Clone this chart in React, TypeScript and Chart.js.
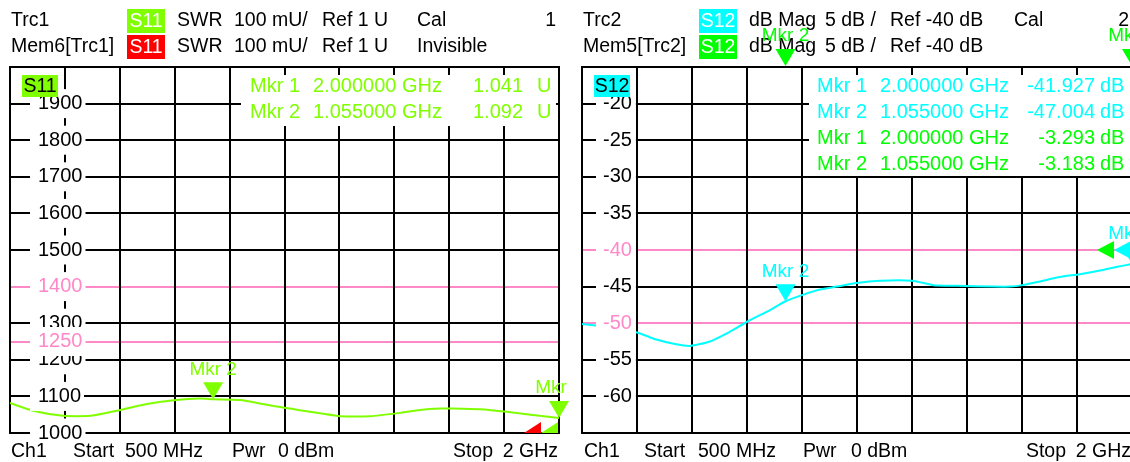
import React, { useEffect, useRef } from "react";
import { Chart, registerables } from "chart.js";
Chart.register(...registerables);

// ---------------- data ----------------
const freqS11 = [500, 563, 645, 719, 801, 874, 954, 1019, 1055, 1128, 1202, 1238, 1265, 1292, 1347, 1402, 1484, 1566, 1620, 1675, 1710, 1784, 1858, 1929, 2000];
const swrS11 = [1082, 1061, 1047, 1047, 1063, 1079, 1090, 1094, 1092, 1090, 1077, 1071, 1067, 1062, 1054, 1046, 1046, 1055, 1063, 1067, 1067, 1065, 1058, 1049, 1041];

const freqS12 = [500, 550, 600, 653, 700, 750, 795, 849, 895, 954, 1013, 1055, 1104, 1149, 1195, 1249, 1313, 1401, 1458, 1522, 1622, 1667, 1701, 1749, 1803, 1858, 1913, 1960, 2000];
const magS12 = [-50.1, -50.4, -50.8, -51.3, -52.2, -52.8, -53.1, -52.5, -51.4, -49.7, -48.2, -47.0, -46.1, -45.4, -45.0, -44.5, -44.2, -44.2, -44.8, -44.9, -45.0, -45.0, -44.8, -44.3, -43.7, -43.3, -42.8, -42.3, -41.9];

const gridFreqs = [500, 650, 800, 950, 1100, 1250, 1400, 1550, 1700, 1850, 2000];
const ticksS11 = [1000, 1100, 1200, 1300, 1400, 1500, 1600, 1700, 1800, 1900, 1250];
const limitS11 = [1400, 1250];
const ticksS12 = [-60, -55, -50, -45, -40, -35, -30, -25, -20];
const limitS12 = [-40, -50];

const markerNames = ["Mkr 1", "Mkr 2"];
const markerFreqs = [2000, 1055];
const markerS11 = [1.041, 1.092];
const markerS12 = [-41.927, -47.004];
const markerMemS12 = [-3.293, -3.183];
const refS11 = 1;
const refS12 = -40;

const headS11Row1 = ["Trc1", "S11", "SWR", "100 mU/", "Ref 1 U", "Cal", "1"];
const headS11Row2 = ["Mem6[Trc1]", "S11", "SWR", "100 mU/", "Ref 1 U", "Invisible"];
const headS12Row1 = ["Trc2", "S12", "dB Mag", "5 dB /", "Ref -40 dB", "Cal", "2"];
const headS12Row2 = ["Mem5[Trc2]", "S12", "dB Mag", "5 dB /", "Ref -40 dB"];
const footerTexts = ["Ch1", "Start", "500 MHz", "Pwr", "0 dBm", "Stop", "2 GHz"];

// ---------------- styles ----------------
const FONT = "'Liberation Sans', Arial, sans-serif";
const HEAD_SIZE = 19.5;
const LIME = "#80ff00";
const RED = "#ff0000";
const CYAN = "#00ffff";
const GREEN = "#00ff00";
const PINK = "#ff88c8";

type Ctx = CanvasRenderingContext2D;

function txt(ctx: Ctx, s: string, x: number, y: number, color: string, size = HEAD_SIZE, align: CanvasTextAlign = "left") {
  ctx.save();
  ctx.font = `${size}px ${FONT}`;
  ctx.fillStyle = color;
  ctx.textAlign = align;
  ctx.textBaseline = "middle";
  ctx.fillText(s, x, y);
  ctx.restore();
}

function tagBox(ctx: Ctx, s: string, x: number, y: number, w: number, h: number, bg: string, fg: string) {
  ctx.fillStyle = bg;
  ctx.fillRect(x, y, w, h);
  txt(ctx, s, x + w / 2, y + h / 2 + 0.5, fg, HEAD_SIZE, "center");
}

function markerDown(ctx: Ctx, x: number, tipY: number, color: string, label: string) {
  ctx.save();
  ctx.fillStyle = color;
  ctx.beginPath();
  ctx.moveTo(x - 10, tipY - 17);
  ctx.lineTo(x + 10, tipY - 17);
  ctx.lineTo(x, tipY);
  ctx.closePath();
  ctx.fill();
  ctx.restore();
  txt(ctx, label, x, tipY - 30, color, 19, "center");
}

function refArrow(ctx: Ctx, tipX: number, y: number, color: string, half: number) {
  ctx.fillStyle = color;
  ctx.beginPath();
  ctx.moveTo(tipX, y);
  ctx.lineTo(tipX + 17, y - half);
  ctx.lineTo(tipX + 17, y + half);
  ctx.closePath();
  ctx.fill();
}

interface Panel {
  padding: { left: number; top: number; right: number; bottom: number };
  freqs: number[];
  values: number[];
  traceColor: string;
  memColor: string;
  yMin: number;
  yMax: number;
  yTicks: number[];
  limits: number[];
  tickPad: number;
  backdropPad: { left: number; right: number; top: number; bottom: number };
  tag: string;
  row1: string[];
  row2: string[];
  colX: number[];
  boxX: number;
  footerX: number[];
  infoBox: [number, number, number, number];
  infoX: [number, number, number, number];
  infoRows: { name: string; freq: number; value: string; unit: string; color: string }[];
  markers: { x: number; v: number; color: string; label: string }[];
  ref: number;
  refHalf: number;
}

function buildChart(canvas: HTMLCanvasElement, p: Panel): Chart {
  const plugin = {
    id: "vnaPanel",
    beforeDatasetsDraw(chart: any) {
      const { ctx, chartArea: a } = chart;
      ctx.save();
      ctx.fillStyle = "#fff";
      ctx.fillRect(p.infoBox[0], p.infoBox[1], p.infoBox[2], p.infoBox[3]);
      ctx.strokeStyle = "#000";
      ctx.lineWidth = 2;
      ctx.strokeRect(a.left, a.top, a.right - a.left, a.bottom - a.top);
      ctx.restore();
    },
    afterDraw(chart: any) {
      const { ctx, chartArea: a } = chart;
      const xs = chart.scales.x;
      const ys = chart.scales.y;
      ctx.save();
      // trace tag inside plot
      tagBox(ctx, p.tag, a.left + 12, 75, 36, 22, p.traceColor, "#000");
      // header
      p.row1.forEach((s, i) => {
        if (i === 1) tagBox(ctx, s, p.boxX, 9, 38, 24, p.traceColor, "#fff");
        else if (i === p.row1.length - 1) txt(ctx, s, a.right - 3, 21, "#000", HEAD_SIZE, "right");
        else txt(ctx, s, p.colX[i], 21, "#000");
      });
      p.row2.forEach((s, i) => {
        if (i === 1) tagBox(ctx, s, p.boxX, 35, 38, 24, p.memColor, "#fff");
        else txt(ctx, s, p.colX[i], 47, "#000");
      });
      // footer: first five anchored left, stop block anchored to plot right
      footerTexts.forEach((s, i) => {
        if (i === 6) txt(ctx, s, a.right - 1, 452, "#000", HEAD_SIZE, "right");
        else if (i === 5) txt(ctx, s, a.right - 66, 452, "#000", HEAD_SIZE, "right");
        else txt(ctx, s, p.footerX[i], 452, "#000");
      });
      // marker info
      p.infoRows.forEach((r, i) => {
        const y = 86 + i * 26;
        txt(ctx, r.name, p.infoX[0], y, r.color, 20);
        txt(ctx, (r.freq / 1000).toFixed(6) + " GHz", p.infoX[1], y, r.color, 20);
        txt(ctx, r.value, p.infoX[2], y, r.color, 20, "right");
        txt(ctx, r.unit, p.infoX[3], y, r.color, 20);
      });
      // reference level arrows (clipped to plot)
      ctx.save();
      ctx.beginPath();
      ctx.rect(a.left, a.top, a.right - a.left, a.bottom - a.top);
      ctx.clip();
      const ry = ys.getPixelForValue(p.ref);
      refArrow(ctx, a.right - 35, ry, p.memColor, p.refHalf);
      refArrow(ctx, a.right - 18, ry, p.traceColor, p.refHalf);
      ctx.restore();
      // markers
      p.markers.forEach((m) => {
        const x = xs.getPixelForValue(m.x);
        const tip = m.v > p.yMax ? a.top - 1 : ys.getPixelForValue(m.v);
        markerDown(ctx, x, tip, m.color, m.label);
      });
      ctx.restore();
    },
  };

  const zeroPad = (s: any) => {
    s.paddingTop = 0;
    s.paddingBottom = 0;
    s.paddingLeft = 0;
    s.paddingRight = 0;
  };

  return new Chart(canvas, {
    type: "line",
    data: {
      datasets: [
        {
          data: p.freqs.map((f, i) => ({ x: f, y: p.values[i] })),
          borderColor: p.traceColor,
          borderWidth: 2,
          pointRadius: 0,
          tension: 0.2,
          fill: false,
        },
      ],
    },
    options: {
      animation: false,
      responsive: false,
      maintainAspectRatio: false,
      layout: { padding: p.padding },
      plugins: { legend: { display: false }, tooltip: { enabled: false } },
      scales: {
        x: {
          type: "linear",
          min: 500,
          max: 2000,
          afterBuildTicks: (s: any) => {
            s.ticks = gridFreqs.map((v) => ({ value: v }));
          },
          afterFit: (s: any) => {
            s.height = 0;
            zeroPad(s);
          },
          ticks: { display: false },
          grid: { color: "#000", lineWidth: 2, drawTicks: false, z: -1 },
          border: { display: false },
        },
        y: {
          type: "linear",
          min: p.yMin,
          max: p.yMax,
          afterBuildTicks: (s: any) => {
            s.ticks = p.yTicks.map((v) => ({ value: v }));
          },
          afterFit: (s: any) => {
            s.width = 0;
            zeroPad(s);
          },
          ticks: {
            mirror: true,
            padding: p.tickPad,
            crossAlign: "near",
            autoSkip: false,
            z: 1,
            font: { family: FONT, size: 20 },
            color: (c: any) => (p.limits.includes(c.tick?.value) ? PINK : "#000"),
            callback: (v: any) => String(v),
            showLabelBackdrop: true,
            backdropColor: "#fff",
            backdropPadding: p.backdropPad,
          },
          grid: {
            color: (c: any) => (p.limits.includes(c.tick?.value) ? PINK : "#000"),
            lineWidth: 2,
            drawTicks: false,
            z: -2,
          },
          border: { display: false },
        },
      },
    } as any,
    plugins: [plugin],
  });
}

const panelS11: Panel = {
  padding: { left: 10, top: 67, right: 11, bottom: 29 },
  freqs: freqS11,
  values: swrS11,
  traceColor: LIME,
  memColor: RED,
  yMin: 1000,
  yMax: 2000,
  yTicks: ticksS11,
  limits: limitS11,
  tickPad: 28,
  backdropPad: { left: 8, right: 3, top: 2.5, bottom: 2.5 },
  tag: "S11",
  row1: headS11Row1,
  row2: headS11Row2,
  colX: [11, 0, 177, 234, 322, 417],
  boxX: 127,
  footerX: [11, 73, 125, 232, 278],
  infoBox: [241, 75, 315, 51],
  infoX: [250, 313, 523, 537],
  infoRows: markerNames.map((n, i) => ({
    name: n,
    freq: markerFreqs[i],
    value: markerS11[i].toFixed(3),
    unit: "U",
    color: LIME,
  })),
  markers: markerNames.map((n, i) => ({ x: markerFreqs[i], v: markerS11[i] * 1000, color: LIME, label: n })),
  ref: refS11 * 1000,
  refHalf: 11,
};

const panelS12: Panel = {
  padding: { left: 12, top: 67, right: 18, bottom: 29 },
  freqs: freqS12,
  values: magS12,
  traceColor: CYAN,
  memColor: GREEN,
  yMin: -65,
  yMax: -15,
  yTicks: ticksS12,
  limits: limitS12,
  tickPad: 21,
  backdropPad: { left: 7, right: 4, top: 2.5, bottom: 2.5 },
  tag: "S12",
  row1: headS12Row1,
  row2: headS12Row2,
  colX: [13, 0, 179, 255, 320, 444],
  boxX: 129,
  footerX: [14, 74, 128, 233, 281],
  infoBox: [239, 75, 341, 101],
  infoX: [247, 310, 525, 530],
  infoRows: [
    ...markerNames.map((n, i) => ({ name: n, freq: markerFreqs[i], value: markerS12[i].toFixed(3), unit: "dB", color: CYAN })),
    ...markerNames.map((n, i) => ({ name: n, freq: markerFreqs[i], value: markerMemS12[i].toFixed(3), unit: "dB", color: GREEN })),
  ],
  markers: [
    ...markerNames.map((n, i) => ({ x: markerFreqs[i], v: markerS12[i], color: CYAN, label: n })),
    ...markerNames.map((n, i) => ({ x: markerFreqs[i], v: markerMemS12[i], color: GREEN, label: n })),
  ],
  ref: refS12,
  refHalf: 9,
};

export default function App() {
  const leftRef = useRef<HTMLCanvasElement>(null);
  const rightRef = useRef<HTMLCanvasElement>(null);
  useEffect(() => {
    const c1 = buildChart(leftRef.current!, panelS11);
    const c2 = buildChart(rightRef.current!, panelS12);
    return () => {
      c1.destroy();
      c2.destroy();
    };
  }, []);
  return (
    <div style={{ position: "fixed", left: 0, top: 0, width: 1130, height: 462, overflow: "hidden", background: "#fff" }}>
      <canvas ref={leftRef} width={570} height={462} style={{ position: "absolute", left: 0, top: 0, width: 570, height: 462 }} />
      <canvas ref={rightRef} width={580} height={462} style={{ position: "absolute", left: 570, top: 0, width: 580, height: 462 }} />
    </div>
  );
}
